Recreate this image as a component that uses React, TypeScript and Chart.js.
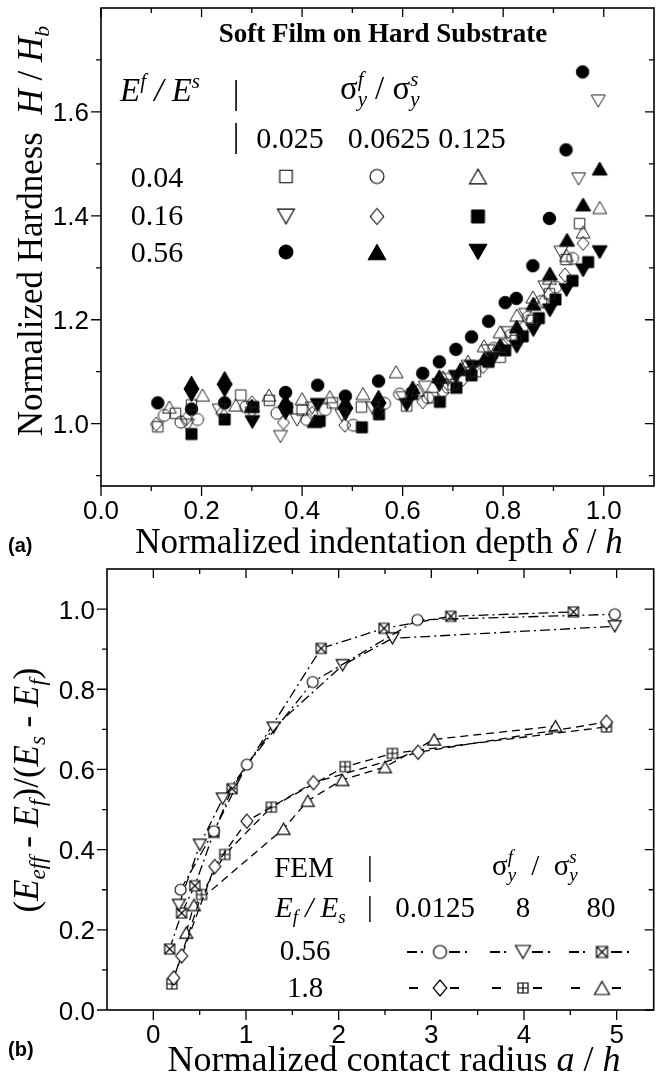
import React, { useEffect, useRef } from 'react';
import { Chart, registerables } from 'chart.js';

Chart.register(...registerables);

const TIMES = '"Liberation Serif", "Times New Roman", serif';
const ARIAL = '"Liberation Sans", Arial, sans-serif';

// ---------------- Panel (a) axes ----------------
const A_X_MAJOR = [0, 0.2, 0.4, 0.6, 0.8, 1.0];
const A_X_LABELS = ['0.0', '0.2', '0.4', '0.6', '0.8', '1.0'];
const A_X_MINOR = [0.1, 0.3, 0.5, 0.7, 0.9];
const A_Y_MAJOR = [1.0, 1.2, 1.4, 1.6];
const A_Y_LABELS = ['1.0', '1.2', '1.4', '1.6'];
const A_Y_MINOR = [0.9, 1.1, 1.3, 1.5, 1.7];

// legend labels (a)
const A_EF_ROWS = ['0.04', '0.16', '0.56'];
const A_SY_COLS = ['0.025', '0.0625', '0.125'];

// ---------------- Panel (a) data: [depth, hardness] ----------------
// Ef/Es = 0.04
const A_004_0025 = [[0.113,0.994],[0.148,1.020],[0.180,1.036],[0.278,1.055],[0.335,1.045],[0.400,1.026],[0.460,1.040],[0.518,1.032],[0.608,1.034],[0.660,1.050],[0.700,1.075],[0.745,1.100],[0.794,1.128],[0.825,1.160],[0.857,1.199],[0.892,1.250],[0.925,1.316],[0.952,1.385]];
const A_004_00625 = [[0.126,1.016],[0.159,1.003],[0.192,1.008],[0.288,1.032],[0.350,1.020],[0.409,1.008],[0.446,1.027],[0.502,0.997],[0.564,1.039],[0.594,1.057],[0.650,1.050],[0.690,1.070],[0.735,1.100],[0.781,1.145],[0.815,1.170],[0.850,1.205],[0.875,1.235],[0.904,1.263],[0.938,1.318]];
const A_004_0125 = [[0.136,1.032],[0.202,1.055],[0.268,1.036],[0.334,1.055],[0.400,1.048],[0.455,1.052],[0.521,1.058],[0.587,1.100],[0.630,1.065],[0.680,1.090],[0.730,1.120],[0.762,1.150],[0.794,1.177],[0.827,1.209],[0.859,1.244],[0.892,1.280],[0.926,1.324],[0.959,1.369],[0.992,1.416]];
// Ef/Es = 0.16
const A_016_0025 = [[0.172,0.997],[0.235,1.026],[0.300,1.020],[0.357,0.975],[0.390,1.007],[0.420,1.030],[0.479,1.016],[0.540,1.030],[0.600,1.050],[0.645,1.070],[0.690,1.085],[0.730,1.110],[0.770,1.140],[0.810,1.175],[0.845,1.210],[0.883,1.263],[0.915,1.330],[0.950,1.471],[0.989,1.621]];
const A_016_00625 = [[0.110,0.999],[0.170,1.010],[0.240,1.020],[0.300,1.040],[0.363,1.002],[0.420,1.020],[0.485,0.997],[0.550,1.020],[0.640,1.042],[0.680,1.060],[0.720,1.085],[0.760,1.110],[0.800,1.150],[0.840,1.185],[0.880,1.235],[0.923,1.286],[0.959,1.347]];
const A_016_0125 = [[0.180,0.980],[0.246,1.008],[0.303,1.032],[0.370,1.030],[0.435,1.005],[0.519,0.993],[0.553,1.018],[0.619,1.057],[0.674,1.042],[0.707,1.069],[0.737,1.093],[0.771,1.119],[0.804,1.141],[0.839,1.168],[0.871,1.203],[0.904,1.239],[0.938,1.275],[0.969,1.311]];
// Ef/Es = 0.56
const A_056_0025 = [[0.113,1.040],[0.180,1.028],[0.246,1.040],[0.367,1.060],[0.431,1.074],[0.486,1.053],[0.552,1.082],[0.640,1.097],[0.673,1.119],[0.706,1.143],[0.737,1.167],[0.771,1.197],[0.804,1.233],[0.826,1.241],[0.859,1.304],[0.892,1.395],[0.925,1.527],[0.958,1.677]];
const A_056_00625 = [[0.180,1.079],[0.246,1.088],[0.300,1.035],[0.367,1.044],[0.425,1.005],[0.486,1.042],[0.552,1.052],[0.620,1.070],[0.673,1.091],[0.715,1.105],[0.762,1.125],[0.794,1.152],[0.827,1.187],[0.860,1.231],[0.893,1.289],[0.927,1.354],[0.959,1.422],[0.992,1.491]];
const A_056_0125 = [[0.180,1.055],[0.246,1.064],[0.301,1.003],[0.367,1.020],[0.431,1.036],[0.486,1.018],[0.552,1.028],[0.608,1.036],[0.673,1.074],[0.706,1.090],[0.739,1.109],[0.780,1.125],[0.827,1.148],[0.860,1.180],[0.893,1.218],[0.926,1.257],[0.959,1.295],[0.992,1.330]];

// ---------------- Panel (b) axes ----------------
const B_X_MAJOR = [0, 1, 2, 3, 4, 5];
const B_X_LABELS = ['0', '1', '2', '3', '4', '5'];
const B_X_MINOR = [0.5, 1.5, 2.5, 3.5, 4.5];
const B_Y_MAJOR = [0, 0.2, 0.4, 0.6, 0.8, 1.0];
const B_Y_LABELS = ['0.0', '0.2', '0.4', '0.6', '0.8', '1.0'];
const B_Y_MINOR = [0.1, 0.3, 0.5, 0.7, 0.9];

const B_EF_ROWS = ['0.56', '1.8'];
const B_SY_COLS = ['0.0125', '8', '80'];

// ---------------- Panel (b) data: [a/h, modulus ratio] ----------------
const B_056_00125 = [[0.294,0.300],[0.653,0.446],[1.01,0.612],[1.72,0.818],[2.85,0.973],[4.98,0.987]];
const B_056_8 = [[0.276,0.262],[0.502,0.412],[0.749,0.527],[1.298,0.704],[2.043,0.860],[2.58,0.927],[4.98,0.957]];
const B_056_80 = [[0.176,0.152],[0.305,0.242],[0.448,0.310],[0.653,0.443],[0.85,0.552],[1.811,0.902],[2.49,0.952],[3.21,0.982],[4.534,0.993]];
const B_18_00125 = [[0.22,0.080],[0.305,0.135],[0.663,0.358],[1.01,0.471],[1.728,0.567],[2.857,0.643],[4.89,0.718]];
const B_18_8 = [[0.20,0.065],[0.52,0.288],[0.771,0.388],[1.273,0.506],[2.07,0.607],[2.58,0.640],[4.89,0.706]];
const B_18_80 = [[0.355,0.193],[0.438,0.262],[1.405,0.452],[1.667,0.522],[2.04,0.574],[2.5,0.606],[3.03,0.675],[4.34,0.708]];

// ---------------- helpers ----------------
type MSpec = { shape: string; size: number; fill: string | null; stroke: string; lw: number };

function makeMarker(m: MSpec): HTMLCanvasElement {
  const pad = 3;
  const W = Math.ceil(m.size + pad * 2);
  const c = document.createElement('canvas');
  c.width = W;
  c.height = W;
  const g = c.getContext('2d') as CanvasRenderingContext2D;
  const cx = W / 2, cy = W / 2, h = m.size / 2;
  g.lineWidth = m.lw;
  g.strokeStyle = m.stroke;
  g.lineJoin = 'miter';
  g.beginPath();
  const th = m.size * 0.866;
  switch (m.shape) {
    case 'ci': g.arc(cx, cy, h, 0, Math.PI * 2); break;
    case 'sq': case 'sqx': case 'sqp': g.rect(cx - h, cy - h, m.size, m.size); break;
    case 'tu':
      g.moveTo(cx, cy - th / 2); g.lineTo(cx + h, cy + th / 2); g.lineTo(cx - h, cy + th / 2); g.closePath(); break;
    case 'td':
      g.moveTo(cx, cy + th / 2); g.lineTo(cx + h, cy - th / 2); g.lineTo(cx - h, cy - th / 2); g.closePath(); break;
    case 'di':
      g.moveTo(cx, cy - h); g.lineTo(cx + h * 0.85, cy); g.lineTo(cx, cy + h); g.lineTo(cx - h * 0.85, cy); g.closePath(); break;
  }
  if (m.fill) { g.fillStyle = m.fill; g.fill(); }
  g.stroke();
  if (m.shape === 'sqx') {
    g.beginPath(); g.moveTo(cx - h, cy - h); g.lineTo(cx + h, cy + h); g.moveTo(cx + h, cy - h); g.lineTo(cx - h, cy + h); g.stroke();
  }
  if (m.shape === 'sqp') {
    g.beginPath(); g.moveTo(cx, cy - h); g.lineTo(cx, cy + h); g.moveTo(cx - h, cy); g.lineTo(cx + h, cy); g.stroke();
  }
  return c;
}

type Seg = { t: string; font: string; dy?: number; adv?: number };

function drawRich(ctx: CanvasRenderingContext2D, segs: Seg[], x: number, y: number, align = 'left', rot = 0) {
  ctx.save();
  ctx.translate(x, y);
  if (rot) ctx.rotate(rot);
  ctx.textAlign = 'left';
  ctx.textBaseline = 'alphabetic';
  ctx.fillStyle = '#000';
  const ws = segs.map((s) => { ctx.font = s.font; return s.adv !== undefined ? s.adv : ctx.measureText(s.t).width; });
  const total = ws.reduce((a, b) => a + b, 0);
  let cx = align === 'left' ? 0 : align === 'center' ? -total / 2 : -total;
  segs.forEach((s, i) => { ctx.font = s.font; ctx.fillText(s.t, cx, s.dy || 0); cx += ws[i]; });
  ctx.restore();
}

const R = (n: number) => `${n}px ${TIMES}`;
const I = (n: number) => `italic ${n}px ${TIMES}`;
const B = (n: number) => `bold ${n}px ${TIMES}`;

type AxCfg = { xMajor: number[]; xLabels: string[]; xMinor: number[]; yMajor: number[]; yLabels: string[]; yMinor: number[]; xLabelBase: number; yLabelRight: number };

function drawFrame(chart: any, c: AxCfg) {
  const ctx = chart.ctx as CanvasRenderingContext2D;
  const { left, right, top, bottom } = chart.chartArea;
  const xs = chart.scales.x, ys = chart.scales.y;
  ctx.save();
  ctx.strokeStyle = '#000';
  ctx.lineWidth = 1.6;
  ctx.strokeRect(left, top, right - left, bottom - top);
  ctx.lineWidth = 1.3;
  ctx.beginPath();
  c.xMajor.forEach((v) => { const p = xs.getPixelForValue(v); ctx.moveTo(p, bottom); ctx.lineTo(p, bottom + 10); ctx.moveTo(p, top); ctx.lineTo(p, top + 9); });
  c.xMinor.forEach((v) => { const p = xs.getPixelForValue(v); ctx.moveTo(p, bottom); ctx.lineTo(p, bottom + 5); ctx.moveTo(p, top); ctx.lineTo(p, top + 5); });
  c.yMajor.forEach((v) => { const p = ys.getPixelForValue(v); ctx.moveTo(left, p); ctx.lineTo(left - 10, p); ctx.moveTo(right, p); ctx.lineTo(right - 9, p); });
  c.yMinor.forEach((v) => { const p = ys.getPixelForValue(v); ctx.moveTo(left, p); ctx.lineTo(left - 5, p); ctx.moveTo(right, p); ctx.lineTo(right - 5, p); });
  ctx.stroke();
  ctx.fillStyle = '#000';
  ctx.font = `26px ${ARIAL}`;
  ctx.textBaseline = 'alphabetic';
  ctx.textAlign = 'center';
  c.xMajor.forEach((v, i) => ctx.fillText(c.xLabels[i], xs.getPixelForValue(v), c.xLabelBase));
  ctx.textAlign = 'right';
  c.yMajor.forEach((v, i) => ctx.fillText(c.yLabels[i], c.yLabelRight, ys.getPixelForValue(v) + 9.5));
  ctx.restore();
}

const toPts = (arr: number[][]) => arr.map(([x, y]) => ({ x, y }));

export default function App() {
  const refA = useRef<HTMLCanvasElement | null>(null);
  const refB = useRef<HTMLCanvasElement | null>(null);

  useEffect(() => {
    const OPEN = '#222';
    // markers for panel (a) data
    const aData: MSpec[][] = [
      [{ shape: 'sq', size: 10.5, fill: null, stroke: OPEN, lw: 1 }, { shape: 'ci', size: 12, fill: null, stroke: OPEN, lw: 1 }, { shape: 'tu', size: 14, fill: null, stroke: OPEN, lw: 1 }],
      [{ shape: 'td', size: 14, fill: null, stroke: OPEN, lw: 1 }, { shape: 'di', size: 14, fill: null, stroke: OPEN, lw: 1 }, { shape: 'sq', size: 11, fill: '#000', stroke: '#000', lw: 1 }],
      [{ shape: 'ci', size: 12.5, fill: '#000', stroke: '#000', lw: 1 }, { shape: 'tu', size: 15, fill: '#000', stroke: '#000', lw: 1 }, { shape: 'td', size: 15, fill: '#000', stroke: '#000', lw: 1 }],
    ];
    const aLeg: MSpec[][] = [
      [{ shape: 'sq', size: 12.5, fill: null, stroke: '#000', lw: 1.1 }, { shape: 'ci', size: 14, fill: null, stroke: '#000', lw: 1.1 }, { shape: 'tu', size: 17, fill: null, stroke: '#000', lw: 1.1 }],
      [{ shape: 'td', size: 17, fill: null, stroke: '#000', lw: 1.1 }, { shape: 'di', size: 16, fill: null, stroke: '#000', lw: 1.1 }, { shape: 'sq', size: 13, fill: '#000', stroke: '#000', lw: 1 }],
      [{ shape: 'ci', size: 14, fill: '#000', stroke: '#000', lw: 1 }, { shape: 'tu', size: 18, fill: '#000', stroke: '#000', lw: 1 }, { shape: 'td', size: 18, fill: '#000', stroke: '#000', lw: 1 }],
    ];
    const aSeries = [
      [A_004_0025, A_004_00625, A_004_0125],
      [A_016_0025, A_016_00625, A_016_0125],
      [A_056_0025, A_056_00625, A_056_0125],
    ];
    const aImgs = aData.map((r) => r.map(makeMarker));
    const aLegImgs = aLeg.map((r) => r.map(makeMarker));

    const aDatasets: any[] = [];
    aSeries.forEach((row, i) => row.forEach((d, j) => {
      aDatasets.push({
        label: `Ef/Es=${A_EF_ROWS[i]}, sy=${A_SY_COLS[j]}`,
        data: toPts(d),
        pointStyle: aImgs[i][j],
        pointRadius: 6,
        pointHoverRadius: 6,
        showLine: false,
      });
    }));

    const aCfg: AxCfg = { xMajor: A_X_MAJOR, xLabels: A_X_LABELS, xMinor: A_X_MINOR, yMajor: A_Y_MAJOR, yLabels: A_Y_LABELS, yMinor: A_Y_MINOR, xLabelBase: 519, yLabelRight: 89 };

    const pluginA = {
      id: 'panelA',
      afterDraw(chart: any) {
        const ctx = chart.ctx as CanvasRenderingContext2D;
        drawFrame(chart, aCfg);
        ctx.save();
        ctx.fillStyle = '#000';
        ctx.textBaseline = 'alphabetic';
        // title
        ctx.font = B(27); ctx.textAlign = 'center';
        ctx.fillText('Soft Film on Hard Substrate', 383, 42);
        // header row
        drawRich(ctx, [{ t: 'E', font: I(33) }, { t: 'f', font: I(21), dy: -13 }, { t: ' / ', font: I(33) }, { t: 'E', font: I(33) }, { t: 's', font: I(21), dy: -13 }], 120, 101);
        ctx.font = R(33); ctx.textAlign = 'center';
        ctx.fillText('|', 236, 104);
        ctx.fillText('|', 236, 147);
        drawRich(ctx, [
          { t: 'σ', font: R(33) }, { t: 'y', font: I(21), dy: 7, adv: 0 }, { t: 'f', font: I(21), dy: -13, adv: 9 },
          { t: ' / ', font: R(33) },
          { t: 'σ', font: R(33) }, { t: 'y', font: I(21), dy: 7, adv: 0 }, { t: 's', font: I(21), dy: -13, adv: 9 },
        ], 340, 99);
        ctx.font = R(30); ctx.textAlign = 'center';
        const colText = [290, 389, 472];
        A_SY_COLS.forEach((t, j) => ctx.fillText(t, colText[j], 148));
        const rowBase = [187, 225, 262];
        const rowMid = [176.5, 216.5, 252];
        const colMk = [286, 377, 478];
        A_EF_ROWS.forEach((t, i) => {
          ctx.fillText(t, 157, rowBase[i]);
          aLegImgs[i].forEach((img, j) => ctx.drawImage(img, colMk[j] - img.width / 2, rowMid[i] - img.height / 2));
        });
        // axis titles
        drawRich(ctx, [{ t: 'Normalized indentation depth ', font: R(35) }, { t: 'δ', font: I(35) }, { t: ' / ', font: R(35) }, { t: 'h', font: I(35) }], 379, 553, 'center');
        drawRich(ctx, [{ t: 'Normalized Hardness  ', font: R(35) }, { t: 'H', font: I(35) }, { t: ' / ', font: R(35) }, { t: 'H', font: I(35) }, { t: 'b', font: I(22), dy: 7 }], 42, 231, 'center', -Math.PI / 2);
        ctx.font = `bold 20px ${ARIAL}`; ctx.textAlign = 'left';
        ctx.fillText('(a)', 8, 552);
        ctx.restore();
      },
    };

    const chartA = new Chart(refA.current as HTMLCanvasElement, {
      type: 'scatter',
      data: { datasets: aDatasets },
      options: {
        animation: false,
        responsive: false,
        devicePixelRatio: 1,
        events: [],
        layout: { padding: { left: 101, right: 3, top: 8, bottom: 94 } },
        plugins: { legend: { display: false }, tooltip: { enabled: false } },
        scales: {
          x: { type: 'linear', min: 0, max: 1.1, display: false },
          y: { type: 'linear', min: 0.88, max: 1.8, display: false },
        },
      } as any,
      plugins: [pluginA],
    });

    // ---------------- panel (b) ----------------
    const bData: MSpec[][] = [
      [{ shape: 'ci', size: 11, fill: '#fff', stroke: '#000', lw: 1.15 }, { shape: 'td', size: 13, fill: '#fff', stroke: '#000', lw: 1.15 }, { shape: 'sqx', size: 10, fill: '#fff', stroke: '#000', lw: 1.15 }],
      [{ shape: 'di', size: 14, fill: '#fff', stroke: '#000', lw: 1.15 }, { shape: 'sqp', size: 10, fill: '#fff', stroke: '#000', lw: 1.15 }, { shape: 'tu', size: 13, fill: '#fff', stroke: '#000', lw: 1.15 }],
    ];
    const bLeg: MSpec[][] = [
      [{ shape: 'ci', size: 13, fill: '#fff', stroke: '#000', lw: 1.2 }, { shape: 'td', size: 15, fill: '#fff', stroke: '#000', lw: 1.2 }, { shape: 'sqx', size: 11, fill: '#fff', stroke: '#000', lw: 1.2 }],
      [{ shape: 'di', size: 16, fill: '#fff', stroke: '#000', lw: 1.2 }, { shape: 'sqp', size: 10, fill: '#fff', stroke: '#000', lw: 1.2 }, { shape: 'tu', size: 15, fill: '#fff', stroke: '#000', lw: 1.2 }],
    ];
    const bSeries = [
      [B_056_00125, B_056_8, B_056_80],
      [B_18_00125, B_18_8, B_18_80],
    ];
    const DASHDOT = [10, 4, 2, 4];
    const DASH = [8, 5];
    const bImgs = bData.map((r) => r.map(makeMarker));
    const bLegImgs = bLeg.map((r) => r.map(makeMarker));
    const bDatasets: any[] = [];
    bSeries.forEach((row, i) => row.forEach((d, j) => {
      bDatasets.push({
        label: `Ef/Es=${B_EF_ROWS[i]}, sy=${B_SY_COLS[j]}`,
        data: toPts(d),
        showLine: true,
        borderColor: '#000',
        borderWidth: 1.3,
        borderDash: i === 0 ? DASHDOT : DASH,
        tension: 0,
        pointStyle: bImgs[i][j],
        pointRadius: 6,
        pointHoverRadius: 6,
      });
    }));

    const OFF = 550;
    const bCfg: AxCfg = { xMajor: B_X_MAJOR, xLabels: B_X_LABELS, xMinor: B_X_MINOR, yMajor: B_Y_MAJOR, yLabels: B_Y_LABELS, yMinor: B_Y_MINOR, xLabelBase: 1043 - OFF, yLabelRight: 95 };

    const pluginB = {
      id: 'panelB',
      afterDraw(chart: any) {
        const ctx = chart.ctx as CanvasRenderingContext2D;
        drawFrame(chart, bCfg);
        ctx.save();
        ctx.fillStyle = '#000';
        ctx.textBaseline = 'alphabetic';
        ctx.font = R(29); ctx.textAlign = 'center';
        ctx.fillText('FEM', 304, 877 - OFF);
        ctx.fillText('|', 370, 876 - OFF);
        ctx.fillText('|', 370, 916 - OFF);
        drawRich(ctx, [
          { t: 'σ', font: R(29) }, { t: 'y', font: I(19), dy: 6, adv: 0 }, { t: 'f', font: I(19), dy: -12, adv: 9 },
          { t: '  /  ', font: R(29) },
          { t: 'σ', font: R(29) }, { t: 'y', font: I(19), dy: 6, adv: 0 }, { t: 's', font: I(19), dy: -12, adv: 9 },
        ], 492, 875 - OFF);
        drawRich(ctx, [{ t: 'E', font: I(29) }, { t: 'f', font: I(19), dy: 6 }, { t: ' / ', font: I(29) }, { t: 'E', font: I(29) }, { t: 's', font: I(19), dy: 6 }], 275, 917 - OFF);
        ctx.font = R(29); ctx.textAlign = 'center';
        const colText = [435, 523, 601];
        B_SY_COLS.forEach((t, j) => ctx.fillText(t, colText[j], 917 - OFF));
        const rowBase = [960, 997];
        const rowMid = [952, 988];
        const colMk = [440, 523, 602];
        B_EF_ROWS.forEach((t, i) => {
          ctx.fillText(t, 305, rowBase[i] - OFF);
          const y = rowMid[i] - OFF;
          colMk.forEach((cx, j) => {
            ctx.save();
            ctx.strokeStyle = '#000';
            ctx.lineWidth = 1.8;
            ctx.beginPath();
            if (i === 0) {
              ctx.moveTo(cx - 33, y); ctx.lineTo(cx - 23, y);
              ctx.moveTo(cx - 19, y); ctx.lineTo(cx - 17, y);
              ctx.moveTo(cx + 9, y); ctx.lineTo(cx + 20, y);
              ctx.moveTo(cx + 25, y); ctx.lineTo(cx + 27, y);
            } else {
              ctx.moveTo(cx - 31, y); ctx.lineTo(cx - 22, y);
              ctx.moveTo(cx + 10, y); ctx.lineTo(cx + 19, y);
            }
            ctx.stroke();
            ctx.restore();
            const img = bLegImgs[i][j];
            ctx.drawImage(img, cx - img.width / 2, y - img.height / 2);
          });
        });
        // axis titles
        drawRich(ctx, [{ t: 'Normalized contact radius ', font: R(36) }, { t: 'a', font: I(36) }, { t: ' / ', font: R(36) }, { t: 'h', font: I(36) }], 394, 1071 - OFF, 'center');
        drawRich(ctx, [
          { t: '(', font: R(35) }, { t: 'E', font: I(35) }, { t: 'eff', font: I(23), dy: 7 },
          { t: ' - ', font: R(35) }, { t: 'E', font: I(35) }, { t: 'f', font: I(23), dy: 7 },
          { t: ')/(', font: R(35) }, { t: 'E', font: I(35) }, { t: 's', font: I(23), dy: 7 },
          { t: ' - ', font: R(35) }, { t: 'E', font: I(35) }, { t: 'f', font: I(23), dy: 7 }, { t: ')', font: R(35) },
        ], 38, 790 - OFF, 'center', -Math.PI / 2);
        ctx.font = `bold 20px ${ARIAL}`; ctx.textAlign = 'left';
        ctx.fillText('(b)', 8, 1056 - OFF);
        ctx.restore();
      },
    };

    const chartB = new Chart(refB.current as HTMLCanvasElement, {
      type: 'scatter',
      data: { datasets: bDatasets },
      options: {
        animation: false,
        responsive: false,
        devicePixelRatio: 1,
        events: [],
        layout: { padding: { left: 107, right: 5, top: 19, bottom: 68 } },
        plugins: { legend: { display: false }, tooltip: { enabled: false } },
        scales: {
          x: { type: 'linear', min: -0.5, max: 5.4, display: false },
          y: { type: 'linear', min: 0, max: 1.1, display: false },
        },
      } as any,
      plugins: [pluginB],
    });

    return () => { chartA.destroy(); chartB.destroy(); };
  }, []);

  return (
    <div style={{ position: 'absolute', left: 0, top: 0, width: 661, height: 1078, background: '#fff' }}>
      <canvas ref={refA} width={661} height={580} style={{ position: 'absolute', left: 0, top: 0, width: 661, height: 580 }} />
      <canvas ref={refB} width={661} height={528} style={{ position: 'absolute', left: 0, top: 550, width: 661, height: 528 }} />
    </div>
  );
}
